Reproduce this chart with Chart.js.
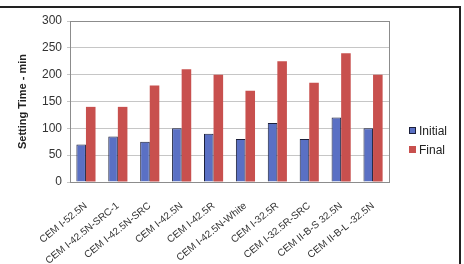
<!DOCTYPE html>
<html>
<head>
<meta charset="utf-8">
<script src="https://cdn.jsdelivr.net/npm/chart.js@4"></script>
<style>
    body { margin: 0; background: #fff; }
    #wrap { position: relative; width: 464px; height: 264px; }
    #frame { position: absolute; left: 0; top: 6px; width: 459px; height: 258px;
             border-top: 2px solid #222; border-right: 2px solid #222; box-sizing: content-box; }
    #legend { position: absolute; left: 409px; top: 121px; font: 12px "Liberation Sans", Arial, sans-serif; color: #222; }
    .legend-item { height: 19px; display: flex; align-items: center; }
    .legend-color { width: 7px; height: 7px; margin-right: 3px; box-sizing: border-box; }
</style>
</head>
<body>
<div id="wrap">
    <canvas id="settingChart" width="464" height="264"></canvas>
    <div id="frame"></div>
    <div id="legend"></div>
</div>
<script>
const categories = ['CEM I-52.5N', 'CEM I-42.5N-SRC-1', 'CEM I-42.5N-SRC', 'CEM I-42.5N', 'CEM I-42.5R',
    'CEM I-42.5N-White', 'CEM I-32.5R', 'CEM I-32.5R-SRC', 'CEM II-B-S 32.5N', 'CEM II-B-L -32.5N'];
const initialTimes = [70, 85, 75, 100, 90, 80, 110, 80, 120, 100];
const finalTimes = [140, 140, 180, 210, 200, 170, 225, 185, 240, 200];
const yTicks = [0, 50, 100, 150, 200, 250, 300];

const blue = '#5a70c4';
const red = '#c8504e';

// rahmen um die plotfläche
const plotBorder = {
    id: 'plotBorder',
    afterDraw(chart) {
        const a = chart.chartArea;
        const c = chart.ctx;
        c.save();
        c.strokeStyle = '#8c8c8c';
        c.lineWidth = 1;
        c.strokeRect(Math.round(a.left) + 0.5, Math.round(a.top) + 0.5,
            Math.round(a.right - a.left), Math.round(a.bottom - a.top));
        c.restore();
    }
};

new Chart(document.getElementById('settingChart').getContext('2d'), {
    type: 'bar',
    data: {
        labels: categories,
        datasets: [{
            label: 'Initial',
            data: initialTimes,
            backgroundColor: blue,
            borderColor: '#1b1f3a',
            borderWidth: 1
        }, {
            label: 'Final',
            data: finalTimes,
            backgroundColor: red,
            borderWidth: 0
        }]
    },
    options: {
        responsive: false,
        animation: false,
        categoryPercentage: 0.6,
        barPercentage: 1,
        layout: { padding: { left: 0, top: 21, right: 75, bottom: 0 } },
        plugins: { legend: { display: false }, tooltip: { enabled: false } },
        scales: {
            x: {
                grid: { display: false },
                border: { color: '#8c8c8c' },
                ticks: {
                    autoSkip: false, minRotation: 39, maxRotation: 39,
                    color: '#333', padding: 10,
                    font: { family: '"Liberation Sans", Arial', size: 10 }
                },
                afterFit(scale) { scale.height = 82; }
            },
            y: {
                min: 0, max: 300,
                afterBuildTicks(scale) { scale.ticks = yTicks.map(v => ({ value: v })); },
                grid: { color: '#c6c6c6', tickLength: 3 },
                border: { color: '#8c8c8c' },
                ticks: {
                    color: '#333', padding: 5,
                    font: { family: '"Liberation Sans", Arial', size: 12 }
                },
                title: {
                    display: true, text: 'Setting Time - min', color: '#222',
                    padding: { top: 16, bottom: 0 },
                    font: { family: '"Liberation Sans", Arial', size: 11, weight: 'bold' }
                },
                afterFit(scale) { scale.width = 70; }
            }
        }
    },
    plugins: [plotBorder]
});

document.getElementById('legend').innerHTML = `
    <div class="legend-item">
        <span class="legend-color" style="background-color: ${blue}; border: 1px solid #1b1f3a;"></span>
        <span class="legend-text">Initial</span>
    </div>
    <div class="legend-item">
        <span class="legend-color" style="background-color: ${red};"></span>
        <span class="legend-text">Final</span>
    </div>
`;
</script>
</body>
</html>
